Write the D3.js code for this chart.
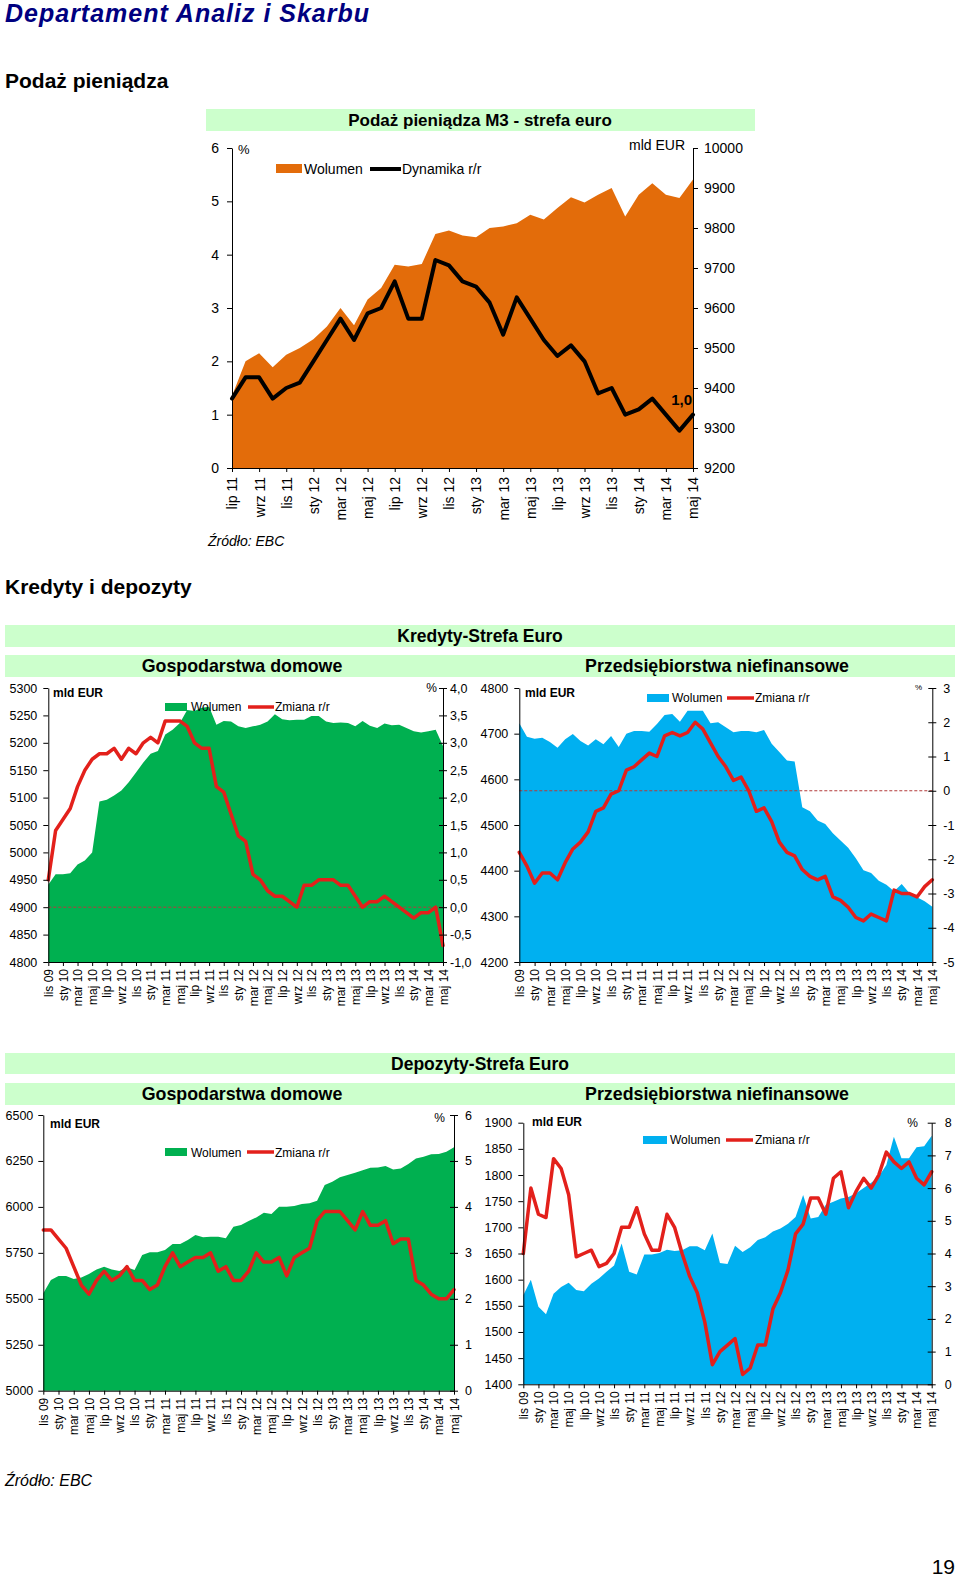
<!DOCTYPE html>
<html><head><meta charset="utf-8">
<script src="https://cdn.jsdelivr.net/npm/d3@7"></script>
<style>body{margin:0;background:#fff}svg{display:block}</style>
</head><body>
<svg id="c" width="960" height="1580"></svg>
<script>
// ---------- DATA ----------
const PL_MONTHS = ["sty","lut","mar","kwi","maj","cze","lip","sie","wrz","paź","lis","gru"];
function monthSeq(m0, y0, n){const out=[];for(let i=0;i<n;i++){const m=(m0+i)%12;const y=y0+Math.floor((m0+i)/12);out.push(PL_MONTHS[m]+" "+String(y).padStart(2,"0"));}return out;}
const m3Months = monthSeq(6, 11, 35);      // lip 11 .. maj 14
const longMonths = monthSeq(10, 9, 55);    // lis 09 .. maj 14

const m3Volume = [9380,9467,9487,9452,9483,9500,9522,9554,9600,9557,9621,9650,9708,9704,9710,9785,9794,9781,9777,9800,9804,9812,9833,9821,9850,9877,9864,9883,9900,9829,9883,9912,9883,9875,9921];
const m3Growth = [1.3,1.7,1.7,1.3,1.5,1.6,2.0,2.4,2.8,2.4,2.9,3.0,3.5,2.8,2.8,3.9,3.8,3.5,3.4,3.1,2.5,3.2,2.8,2.4,2.1,2.3,2.0,1.4,1.5,1.0,1.1,1.3,1.0,0.7,1.0];

const hhLoanVol = [4941,4960,4960,4962,4978,4985,5000,5093,5096,5104,5113,5128,5146,5164,5180,5185,5215,5224,5236,5260,5258,5264,5266,5233,5240,5239,5230,5227,5230,5233,5239,5252,5243,5241,5242,5242,5249,5249,5239,5236,5237,5236,5230,5240,5231,5227,5235,5232,5233,5227,5221,5219,5221,5224,5194];
const hhLoanChg = [0.5,1.4,1.6,1.8,2.2,2.5,2.7,2.8,2.8,2.9,2.7,2.9,2.8,3.0,3.1,3.0,3.4,3.4,3.4,3.3,3.0,2.9,2.9,2.2,2.1,1.7,1.3,1.2,0.6,0.5,0.3,0.2,0.2,0.1,0.0,0.4,0.4,0.5,0.5,0.5,0.4,0.4,0.2,0.0,0.1,0.1,0.2,0.1,0.0,-0.1,-0.2,-0.1,-0.1,0.0,-0.7];

const entLoanVol = [4723,4693,4689,4691,4682,4669,4688,4699,4684,4674,4688,4677,4695,4671,4700,4706,4706,4704,4721,4741,4743,4726,4750,4750,4750,4723,4725,4714,4703,4706,4706,4703,4708,4678,4660,4641,4639,4539,4530,4510,4502,4482,4466,4450,4427,4401,4395,4378,4369,4355,4371,4351,4342,4333,4321];
const entLoanChg = [-1.8,-2.2,-2.7,-2.4,-2.4,-2.6,-2.1,-1.7,-1.5,-1.2,-0.6,-0.5,-0.1,0.0,0.6,0.7,0.9,1.1,1.0,1.6,1.7,1.6,1.7,2.0,1.8,1.4,1.0,0.7,0.3,0.4,0.0,-0.6,-0.5,-0.9,-1.5,-1.8,-1.9,-2.3,-2.5,-2.6,-2.5,-3.1,-3.2,-3.4,-3.7,-3.8,-3.6,-3.7,-3.8,-2.9,-3.0,-3.0,-3.1,-2.8,-2.6];

const hhDepVol = [5530,5602,5624,5624,5608,5616,5635,5660,5675,5660,5651,5671,5657,5738,5753,5753,5766,5798,5798,5820,5847,5835,5838,5838,5829,5892,5901,5923,5943,5968,5961,6001,6001,6005,6016,6020,6034,6119,6137,6161,6173,6186,6200,6213,6215,6222,6204,6209,6233,6264,6273,6286,6288,6300,6324];
const hhDepChg = [3.5,3.5,3.3,3.1,2.7,2.3,2.1,2.4,2.6,2.4,2.5,2.7,2.4,2.4,2.2,2.3,2.7,3.0,2.7,2.8,2.9,2.9,3.0,2.6,2.7,2.4,2.4,2.6,3.0,2.8,2.8,2.9,2.5,2.9,3.0,3.1,3.7,3.9,3.9,3.9,3.7,3.5,3.9,3.6,3.6,3.7,3.2,3.3,3.3,2.4,2.3,2.1,2.0,2.0,2.2];

const entDepVol = [1570,1600,1548,1534,1573,1586,1594,1580,1578,1592,1602,1615,1627,1669,1615,1610,1648,1648,1651,1657,1655,1656,1664,1664,1656,1688,1632,1630,1665,1653,1662,1676,1681,1692,1698,1707,1720,1762,1717,1720,1743,1749,1755,1758,1765,1775,1785,1797,1819,1873,1832,1832,1853,1855,1875];
const entDepChg = [4.0,6.0,5.2,5.1,6.9,6.6,5.8,3.9,4.0,4.1,3.6,3.7,4.0,4.8,4.8,5.4,4.6,4.1,4.1,5.2,4.8,4.0,3.3,2.8,1.9,0.6,1.0,1.2,1.4,0.3,0.5,1.2,1.2,2.3,2.8,3.5,4.6,4.9,5.7,5.7,5.2,6.3,6.5,5.4,5.9,6.3,6.0,6.4,7.1,6.8,6.6,6.8,6.3,6.1,6.5];

const m3LeftTicks = d3.range(0, 7, 1);
const m3RightTicks = d3.range(9200, 10001, 100);
const hhLoanLeftTicks = d3.range(4800, 5301, 50);
const hhLoanRightTicks = d3.range(-1, 4.01, 0.5);
const entLoanLeftTicks = d3.range(4200, 4801, 100);
const entLoanRightTicks = d3.range(-5, 3.01, 1);
const hhDepLeftTicks = d3.range(5000, 6501, 250);
const hhDepRightTicks = d3.range(0, 6.01, 1);
const entDepLeftTicks = d3.range(1400, 1901, 50);
const entDepRightTicks = d3.range(0, 8.01, 1);

// ---------- DRAW ----------
const FONT = "'Liberation Sans', Arial, Helvetica, sans-serif";
const svg = d3.select("#c");
svg.append("rect").attr("width",960).attr("height",1580).attr("fill","#fff");
const BAND = "#ccffcc", ORANGE = "#e36c0a", GREEN = "#00b050", BLUE = "#00b0f0", RED = "#e3201b";

function txt(x, y, s, opt={}) {
  return svg.append("text").attr("x",x).attr("y",y).text(s)
    .attr("font-family", opt.family || FONT).attr("font-size", opt.size || 12)
    .attr("font-weight", opt.bold ? "bold" : "normal")
    .attr("font-style", opt.italic ? "italic" : "normal")
    .attr("text-anchor", opt.anchor || "start")
    .attr("fill", opt.fill || "#000")
    .attr("letter-spacing", opt.ls || null);
}
function band(x, y, w, h) { svg.append("rect").attr("x",x).attr("y",y).attr("width",w).attr("height",h).attr("fill",BAND); }

const comma1 = d => d.toFixed(1).replace(".", ",").replace("\u2212","-");
const intf = d => String(Math.round(d));

function panel(o) {
  const g = svg.append("g");
  const n = o.months.length;
  const x = d3.scaleLinear().domain([0, n-1]).range([o.x0, o.x1]);
  const yL = d3.scaleLinear().domain(o.leftDomain).range([o.y1, o.y0]);
  const yR = d3.scaleLinear().domain(o.rightDomain).range([o.y1, o.y0]);
  const yA = o.areaAxis === "right" ? yR : yL;
  const yN = o.lineAxis === "right" ? yR : yL;
  g.append("path").datum(o.area)
    .attr("d", d3.area().x((d,i)=>x(i)).y0(o.y1).y1(d=>yA(d)))
    .attr("fill", o.areaColor);
  if (o.zeroLine) {
    g.append("line").attr("x1",o.x0).attr("x2",o.x1).attr("y1",yR(0)).attr("y2",yR(0))
      .attr("stroke","#b23a3a").attr("stroke-width",1).attr("stroke-dasharray","3,2");
  }
  g.append("path").datum(o.line)
    .attr("d", d3.line().x((d,i)=>x(i)).y(d=>yN(d)))
    .attr("fill","none").attr("stroke",o.lineColor).attr("stroke-width",o.lineWidth)
    .attr("stroke-linejoin","round").attr("stroke-linecap","round");

  const styleAxis = (a, fs) => {
    a.attr("font-family", FONT).attr("font-size", fs);
    a.select(".domain").attr("stroke","#000").attr("stroke-width",1);
    a.selectAll(".tick line").attr("stroke","#000");
    a.selectAll("text").attr("fill","#000");
  };
  const la = g.append("g").attr("transform",`translate(${o.x0},0)`)
    .call(d3.axisLeft(yL).tickValues(o.leftTicks).tickFormat(o.leftFmt).tickSize(5).tickPadding(o.lPad).tickSizeOuter(0));
  styleAxis(la, o.tickFont);
  const ra = g.append("g").attr("transform",`translate(${o.x1},0)`)
    .call(d3.axisRight(yR).tickValues(o.rightTicks).tickFormat(o.rightFmt).tickSize(5).tickPadding(o.rPad).tickSizeOuter(0));
  styleAxis(ra, o.tickFont);
  if (o.crossRight) ra.selectAll(".tick line").attr("x1",-4).attr("x2",4);
  const ba = g.append("g").attr("transform",`translate(0,${o.y1})`)
    .call(d3.axisBottom(x).tickValues(d3.range(0,n,2)).tickFormat(i=>o.months[i]).tickSize(4).tickSizeOuter(0));
  styleAxis(ba, o.monthFont);
  ba.selectAll("text").attr("transform","rotate(-90)").attr("x",-o.mOff).attr("y",0)
    .attr("dy","0.35em").style("text-anchor","end");
  return {x, yL, yR};
}

// Header
txt(5, 22, "Departament Analiz i Skarbu", {size:25, bold:true, italic:true, fill:"#000080", ls:1});
txt(5, 88, "Podaż pieniądza", {size:21, bold:true});

// M3 chart
band(206, 109, 549, 22);
txt(480, 126, "Podaż pieniądza M3 - strefa euro", {size:17, bold:true, anchor:"middle"});
const m3 = panel({
  months: m3Months, x0: 232, x1: 693, y0: 148, y1: 468,
  leftDomain: [0,6], rightDomain: [9200,10000],
  area: m3Volume, areaAxis: "right", areaColor: ORANGE,
  line: m3Growth, lineAxis: "left", lineColor: "#000", lineWidth: 4,
  leftTicks: m3LeftTicks, rightTicks: m3RightTicks, leftFmt: intf, rightFmt: intf,
  lPad: 8, rPad: 6, tickFont: 14, monthFont: 14, mOff: 9
});
txt(238, 154, "%", {size:13});
txt(685, 150, "mld EUR", {size:14, anchor:"end"});
svg.append("rect").attr("x",276).attr("y",164).attr("width",26).attr("height",9).attr("fill",ORANGE);
txt(304, 174, "Wolumen", {size:14});
svg.append("line").attr("x1",370).attr("x2",401).attr("y1",169).attr("y2",169).attr("stroke","#000").attr("stroke-width",4);
txt(402, 174, "Dynamika r/r", {size:14});
txt(m3.x(m3Growth.length-1) - 1, m3.yL(m3Growth[m3Growth.length-1]) - 10, "1,0", {size:15, bold:true, anchor:"end"});
txt(208, 546, "Źródło: EBC", {size:14, italic:true});

// Kredyty
txt(5, 594, "Kredyty i depozyty", {size:21, bold:true});
band(5, 625, 950, 22);
txt(480, 642, "Kredyty-Strefa Euro", {size:17.5, bold:true, anchor:"middle"});
band(5, 655, 950, 22);
txt(242, 672, "Gospodarstwa domowe", {size:17.8, bold:true, anchor:"middle"});
txt(717, 672, "Przedsiębiorstwa niefinansowe", {size:17.8, bold:true, anchor:"middle"});

panel({
  months: longMonths, x0: 48.3, x1: 443, y0: 688, y1: 962,
  leftDomain: [4800,5300], rightDomain: [-1,4],
  area: hhLoanVol, areaAxis: "left", areaColor: GREEN,
  line: hhLoanChg, lineAxis: "right", lineColor: RED, lineWidth: 3.5,
  leftTicks: hhLoanLeftTicks, rightTicks: hhLoanRightTicks, leftFmt: intf, rightFmt: comma1,
  lPad: 6, rPad: 2, crossRight: true, zeroLine: true, tickFont: 12.5, monthFont: 12, mOff: 7
});
txt(53, 697, "mld EUR", {size:12, bold:true});
txt(437, 692, "%", {size:12, anchor:"end"});
svg.append("rect").attr("x",165).attr("y",703).attr("width",22).attr("height",8).attr("fill",GREEN);
txt(191, 711, "Wolumen", {size:12});
svg.append("line").attr("x1",248).attr("x2",274).attr("y1",707).attr("y2",707).attr("stroke",RED).attr("stroke-width",3.5);
txt(275, 711, "Zmiana r/r", {size:12});

panel({
  months: longMonths, x0: 519.3, x1: 932.3, y0: 688, y1: 962,
  leftDomain: [4200,4800], rightDomain: [-5,3],
  area: entLoanVol, areaAxis: "left", areaColor: BLUE,
  line: entLoanChg, lineAxis: "right", lineColor: RED, lineWidth: 3.5,
  leftTicks: entLoanLeftTicks, rightTicks: entLoanRightTicks, leftFmt: intf, rightFmt: intf,
  lPad: 6, rPad: 6, crossRight: true, zeroLine: true, tickFont: 12.5, monthFont: 12, mOff: 7
});
txt(525, 697, "mld EUR", {size:12, bold:true});
txt(922, 690, "%", {size:8, anchor:"end"});
svg.append("rect").attr("x",647).attr("y",694).attr("width",22).attr("height",8).attr("fill",BLUE);
txt(672, 702, "Wolumen", {size:12});
svg.append("line").attr("x1",727).attr("x2",754).attr("y1",698).attr("y2",698).attr("stroke",RED).attr("stroke-width",3.5);
txt(755, 702, "Zmiana r/r", {size:12});

// Depozyty
band(5, 1053, 950, 21);
txt(480, 1070, "Depozyty-Strefa Euro", {size:17.5, bold:true, anchor:"middle"});
band(5, 1083, 950, 22);
txt(242, 1100, "Gospodarstwa domowe", {size:17.8, bold:true, anchor:"middle"});
txt(717, 1100, "Przedsiębiorstwa niefinansowe", {size:17.8, bold:true, anchor:"middle"});

panel({
  months: longMonths, x0: 43.3, x1: 454, y0: 1115, y1: 1390.7,
  leftDomain: [5000,6500], rightDomain: [0,6],
  area: hhDepVol, areaAxis: "left", areaColor: GREEN,
  line: hhDepChg, lineAxis: "right", lineColor: RED, lineWidth: 3.5,
  leftTicks: hhDepLeftTicks, rightTicks: hhDepRightTicks, leftFmt: intf, rightFmt: intf,
  lPad: 5, rPad: 6, crossRight: true, tickFont: 12.5, monthFont: 12, mOff: 7
});
txt(50, 1128, "mld EUR", {size:12, bold:true});
txt(445, 1122, "%", {size:12, anchor:"end"});
svg.append("rect").attr("x",165).attr("y",1148).attr("width",22).attr("height",8).attr("fill",GREEN);
txt(191, 1157, "Wolumen", {size:12});
svg.append("line").attr("x1",247).attr("x2",274).attr("y1",1152).attr("y2",1152).attr("stroke",RED).attr("stroke-width",3.5);
txt(275, 1157, "Zmiana r/r", {size:12});

panel({
  months: longMonths, x0: 523.3, x1: 931.7, y0: 1122.7, y1: 1384.3,
  leftDomain: [1400,1900], rightDomain: [0,8],
  area: entDepVol, areaAxis: "left", areaColor: BLUE,
  line: entDepChg, lineAxis: "right", lineColor: RED, lineWidth: 3.5,
  leftTicks: entDepLeftTicks, rightTicks: entDepRightTicks, leftFmt: intf, rightFmt: intf,
  lPad: 6, rPad: 8, crossRight: true, tickFont: 12.5, monthFont: 12, mOff: 7
});
txt(532, 1126, "mld EUR", {size:12, bold:true});
txt(918, 1127, "%", {size:12, anchor:"end"});
svg.append("rect").attr("x",643).attr("y",1136).attr("width",24).attr("height",8).attr("fill",BLUE);
txt(670, 1144, "Wolumen", {size:12});
svg.append("line").attr("x1",726).attr("x2",753).attr("y1",1140).attr("y2",1140).attr("stroke",RED).attr("stroke-width",3.5);
txt(755, 1144, "Zmiana r/r", {size:12});

txt(5, 1486, "Źródło: EBC", {size:16, italic:true});
txt(955, 1574, "19", {size:21, anchor:"end", family:"'Liberation Sans Narrow', 'Liberation Sans', Arial, sans-serif"});
</script>
</body></html>
